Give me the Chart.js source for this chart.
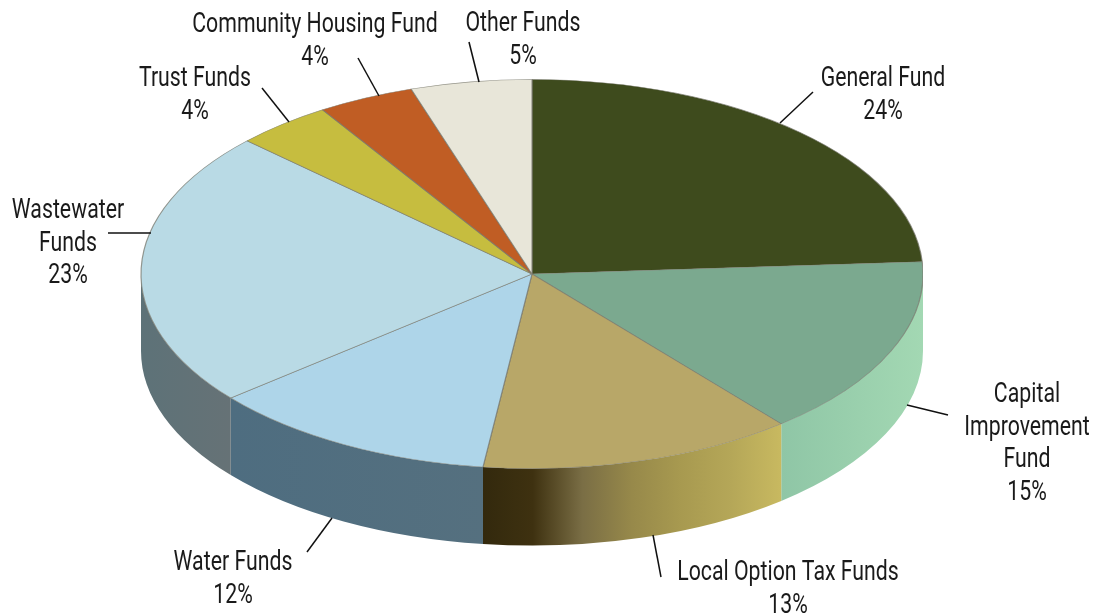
<!DOCTYPE html>
<html>
<head>
<meta charset="utf-8">
<title>Funds</title>
<style>
  html, body { margin: 0; padding: 0; background: #fff; }
  canvas { display: block; }
</style>
<script src="https://cdn.jsdelivr.net/npm/chart.js@4"></script>
</head>
<body>
<canvas id="chart" width="1096" height="616"></canvas>
<script>
// values
const categories = ['General Fund', 'Capital Improvement Fund', 'Local Option Tax Funds', 'Water Funds',
  'Wastewater Funds', 'Trust Funds', 'Community Housing Fund', 'Other Funds'];
const shares = [24, 15, 13, 12, 23, 4, 4, 5];

// how each category name wraps in its callout
const labelLines = [
  ['General Fund'],
  ['Capital', 'Improvement', 'Fund'],
  ['Local Option Tax Funds'],
  ['Water Funds'],
  ['Wastewater', 'Funds'],
  ['Trust Funds'],
  ['Community Housing Fund'],
  ['Other Funds']
];

const topColors = ['#3e4b1d', '#7ba98f', '#b8a768', '#aed5e9', '#b9dae5', '#c6bd3f', '#c05d24', '#e8e6d9'];
const wallColors = [
  null,
  ['#8fc6a6', '#a3d8b3'],
  ['#33290d', '#3e3110', '#7a6e45', '#97894a', '#a89a50', '#b5a758', '#c8b960'],
  ['#4e6d80', '#55707f'],
  ['#5d7278', '#667276'],
  null, null, null
];

// callout layout: text centre, first line y, line from the pie edge out to the text
const calloutX = [883, 1027, 788, 233, 68, 195, 315, 523];
const calloutY = [79, 395, 573, 563, 211, 79, 25, 24];
const leaderLines = [
  [780, 123, 813, 92],
  [907, 405, 948, 415],
  [653, 535, 661, 577],
  [332, 518, 307, 552],
  [151, 233, 108, 233],
  [289, 122, 262, 88],
  [379, 96, 358, 58],
  [479, 82, 469, 42]
];

const RADIUS = 391;
const SQUASH = 0.4975;
const DEPTH = 77;
const CLIP_RIGHT = 923;
const LINE_HEIGHT = 32.7;
const TEXT_STRETCH = 0.76;

// tilts the flat pie: side walls first, then the slices get drawn through a y-squash
const tiltPlugin = {
  id: 'tilt',
  beforeDatasetsDraw(chart) {
    const ctx = chart.ctx;
    const arcs = chart.getDatasetMeta(0).data;
    const cx = arcs[0].x;
    const cy = arcs[0].y;
    const rx = arcs[0].outerRadius;
    const ry = rx * SQUASH;

    ctx.save();
    ctx.beginPath();
    ctx.rect(0, 0, CLIP_RIGHT, chart.height);
    ctx.clip();

    arcs.forEach((arc, i) => {
      const a0 = Math.max(arc.startAngle, 0);
      const a1 = Math.min(arc.endAngle, Math.PI);
      if (a1 <= a0 || !wallColors[i]) return;
      const grad = ctx.createLinearGradient(cx + rx * Math.cos(a1), 0, cx + rx * Math.cos(a0), 0);
      wallColors[i].forEach((c, k) => grad.addColorStop(k / (wallColors[i].length - 1), c));
      ctx.beginPath();
      ctx.ellipse(cx, cy, rx, ry, 0, a0, a1);
      ctx.ellipse(cx, cy + DEPTH, rx, ry, 0, a1, a0, true);
      ctx.closePath();
      ctx.fillStyle = grad;
      ctx.fill();
    });

    ctx.translate(cx, cy);
    ctx.scale(1, SQUASH);
    ctx.translate(-cx, -cy);
  },
  afterDatasetsDraw(chart) {
    chart.ctx.restore();
  }
};

const calloutPlugin = {
  id: 'callouts',
  afterDraw(chart) {
    const ctx = chart.ctx;
    ctx.save();
    ctx.strokeStyle = '#111';
    ctx.lineWidth = 1.5;
    leaderLines.forEach(l => {
      ctx.beginPath();
      ctx.moveTo(l[0], l[1]);
      ctx.lineTo(l[2], l[3]);
      ctx.stroke();
    });

    ctx.fillStyle = '#1a1a1a';
    ctx.font = '400 28px Roboto';
    ctx.textAlign = 'center';
    ctx.textBaseline = 'middle';
    categories.forEach((name, i) => {
      const lines = labelLines[i].concat(shares[i] + '%');
      lines.forEach((line, k) => {
        ctx.save();
        ctx.translate(calloutX[i], calloutY[i] + k * LINE_HEIGHT);
        ctx.scale(TEXT_STRETCH, 1);
        ctx.fillText(line, 0, 0);
        ctx.restore();
      });
    });
    ctx.restore();
  }
};

new Chart(document.getElementById('chart'), {
  type: 'pie',
  data: {
    labels: categories,
    datasets: [{
      data: shares,
      backgroundColor: topColors,
      borderColor: 'rgba(120,120,110,0.75)',
      borderWidth: 1.2,
      radius: RADIUS,
      clip: false
    }]
  },
  options: {
    responsive: false,
    animation: false,
    layout: { padding: { right: 32, bottom: 68 } },
    plugins: {
      legend: { display: false },
      tooltip: { enabled: false }
    }
  },
  plugins: [tiltPlugin, calloutPlugin]
});
</script>
</body>
</html>
